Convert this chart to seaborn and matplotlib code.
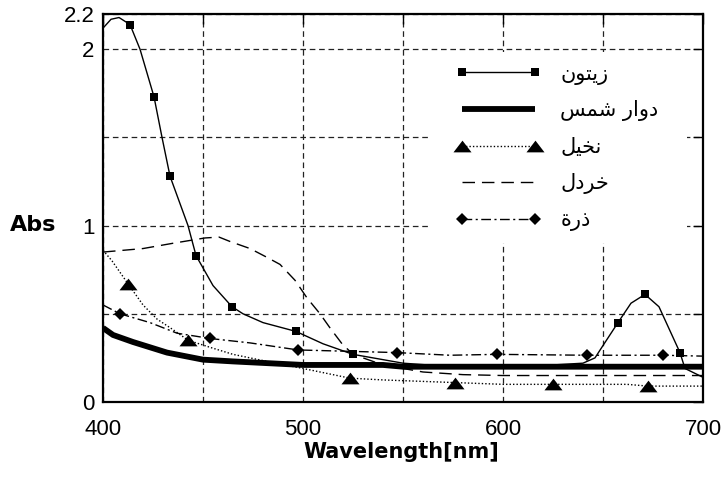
import numpy as np
import pandas as pd
import matplotlib.pyplot as plt
import seaborn as sns
from matplotlib.patches import Rectangle

# Series (wavelength in nm, absorbance)
olive_x = [400, 404, 408, 413.5, 418.5, 425.5, 429.5, 433.5, 442.5, 446.5, 455, 464.5, 470, 480,
           496.5, 510, 525, 550, 575, 600, 625, 640, 646, 650, 657.5, 664, 671, 678, 688.5, 691, 700]
olive_y = [2.12, 2.17, 2.18, 2.14, 2.0, 1.73, 1.5, 1.28, 1.0, 0.83, 0.66, 0.54, 0.5, 0.45,
           0.40, 0.33, 0.27, 0.22, 0.20, 0.20, 0.21, 0.22, 0.25, 0.32, 0.45, 0.56, 0.61, 0.54, 0.28, 0.19, 0.14]
olive_marks = [3, 5, 7, 9, 11, 14, 16, 24, 26, 28]

sun_x = [400, 405, 415, 432, 450, 465, 500, 540, 550, 600, 650, 700]
sun_y = [0.42, 0.38, 0.34, 0.28, 0.24, 0.23, 0.21, 0.21, 0.20, 0.20, 0.20, 0.20]

palm_x = [400, 404.5, 412.5, 415, 420, 427, 435, 442.5, 453.5, 465, 482, 500, 523.5, 540,
          576, 600, 625, 662, 672.5, 700]
palm_y = [0.86, 0.80, 0.67, 0.63, 0.55, 0.47, 0.41, 0.35, 0.31, 0.27, 0.23, 0.19, 0.135, 0.125,
          0.11, 0.10, 0.10, 0.10, 0.09, 0.09]
palm_marks = [2, 7, 12, 14, 16, 18]

mustard_x = [400, 420, 435, 451, 458, 463.5, 473.5, 482, 488.5, 496, 502, 508.5, 513.5, 519.5,
             525, 540, 560, 580, 600, 650, 700]
mustard_y = [0.85, 0.87, 0.90, 0.93, 0.935, 0.91, 0.87, 0.82, 0.78, 0.69, 0.59, 0.50, 0.42, 0.33,
             0.27, 0.21, 0.17, 0.155, 0.15, 0.15, 0.15]

corn_x = [400, 408.5, 423.5, 437, 453.5, 473.5, 497.5, 547, 573.5, 597, 642, 680, 700]
corn_y = [0.55, 0.50, 0.45, 0.39, 0.36, 0.335, 0.295, 0.28, 0.265, 0.27, 0.265, 0.265, 0.26]
corn_marks = [1, 4, 6, 7, 9, 10, 11]

labels = ["زيتون", "دوار شمس", "نخيل", "خردل", "ذرة"]

# tiny Arabic shaper: (isolated, final, initial, medial) presentation forms
FORMS = {
    "ا": ("\uFE8D", "\uFE8E", None, None),
    "د": ("\uFEA9", "\uFEAA", None, None),
    "ذ": ("\uFEAB", "\uFEAC", None, None),
    "ر": ("\uFEAD", "\uFEAE", None, None),
    "ز": ("\uFEAF", "\uFEB0", None, None),
    "و": ("\uFEED", "\uFEEE", None, None),
    "ة": ("\uFE93", "\uFE94", None, None),
    "ت": ("\uFE95", "\uFE96", "\uFE97", "\uFE98"),
    "ي": ("\uFEF1", "\uFEF2", "\uFEF3", "\uFEF4"),
    "ن": ("\uFEE5", "\uFEE6", "\uFEE7", "\uFEE8"),
    "ش": ("\uFEB5", "\uFEB6", "\uFEB7", "\uFEB8"),
    "م": ("\uFEE1", "\uFEE2", "\uFEE3", "\uFEE4"),
    "س": ("\uFEB1", "\uFEB2", "\uFEB3", "\uFEB4"),
    "خ": ("\uFEA5", "\uFEA6", "\uFEA7", "\uFEA8"),
    "ل": ("\uFEDD", "\uFEDE", "\uFEDF", "\uFEE0"),
}


def shape(text):
    out = []
    for i, ch in enumerate(text):
        if ch not in FORMS:
            out.append(ch)
            continue
        prev = text[i - 1] if i > 0 else ""
        nxt = text[i + 1] if i + 1 < len(text) else ""
        pj = prev in FORMS and FORMS[prev][2] is not None
        nj = nxt in FORMS and FORMS[ch][2] is not None
        f = FORMS[ch]
        out.append(f[3] if pj and nj else f[1] if pj else f[2] if nj else f[0])
    return "".join(reversed(out))


sns.set_style("white")
plt.rcParams["font.family"] = ["Liberation Sans", "DejaVu Sans"]
plt.rcParams["text.color"] = "black"
plt.rcParams["axes.labelcolor"] = "black"

fig, ax = plt.subplots(figsize=(7.21, 4.79), dpi=100)
fig.subplots_adjust(left=0.1429, right=0.975, bottom=0.1608, top=0.9708)

tri = [(-1, -0.65), (1, -0.65), (0, 0.65), (-1, -0.65)]

sns.lineplot(x=olive_x, y=olive_y, ax=ax, color="black", lw=1.0, marker="s", markersize=5.8,
             markeredgewidth=0, markevery=olive_marks, label=shape(labels[0]),
             estimator=None, sort=False)
sns.lineplot(x=sun_x, y=sun_y, ax=ax, color="black", lw=4.2, label=shape(labels[1]),
             estimator=None, sort=False, solid_capstyle="butt")
sns.lineplot(x=palm_x, y=palm_y, ax=ax, color="black", lw=1.0, linestyle=(0, (1, 1.5)),
             marker=tri, markersize=13, markeredgewidth=0, markevery=palm_marks,
             label=shape(labels[2]), estimator=None, sort=False)
sns.lineplot(x=mustard_x, y=mustard_y, ax=ax, color="black", lw=1.0, linestyle=(0, (9, 5)),
             label=shape(labels[3]), estimator=None, sort=False)
sns.lineplot(x=corn_x, y=corn_y, ax=ax, color="black", lw=1.0, linestyle=(0, (7, 2.5, 1.5, 2.5)),
             marker="D", markersize=6.5, markeredgewidth=0, markevery=corn_marks,
             label=shape(labels[4]), estimator=None, sort=False)

ax.set_xlim(400, 700)
ax.set_ylim(0, 2.2)
ax.set_xticks(np.arange(400, 701, 50))
ax.set_xticklabels(["400", "", "500", "", "600", "", "700"])
ax.set_yticks([0, 0.5, 1, 1.5, 2, 2.2])
ax.set_yticklabels(["0", "", "1", "", "2", "2.2"])
ax.tick_params(direction="in", length=7, width=1, top=True, right=True, labelsize=16,
               colors="black")
ax.tick_params(axis="x", pad=12)
ax.tick_params(axis="y", pad=6)
ax.grid(True, color="#222222", linestyle=(0, (4.5, 3)), linewidth=0.9)
ax.set_axisbelow(True)
for sp in ax.spines.values():
    sp.set_color("black")
    sp.set_linewidth(1.6)

# white area behind the legend, hiding the grid there
ax.add_patch(Rectangle((0.5417, 0.41), 0.431, 0.492, transform=ax.transAxes,
                       facecolor="white", edgecolor="none", zorder=1))

ax.set_ylabel("Abs", rotation=0, fontsize=16, fontweight="bold", family="DejaVu Sans",
              ha="center", va="center", color="black")
ax.yaxis.set_label_coords(-0.117, 0.455)
ax.set_xlabel("Wavelength[nm]", fontsize=15, fontweight="bold", family="DejaVu Sans",
              color="black")
ax.xaxis.set_label_coords(0.497, -0.104)

leg = ax.legend(loc="upper left", bbox_to_anchor=(0.5883, 0.872), frameon=False,
                handlelength=4.1, handletextpad=0.9, labelspacing=0.76, borderpad=0,
                borderaxespad=0, numpoints=2, prop={"family": "DejaVu Sans", "size": 15})
for t in leg.get_texts():
    t.set_color("black")

plt.savefig("out.png", dpi=100)
